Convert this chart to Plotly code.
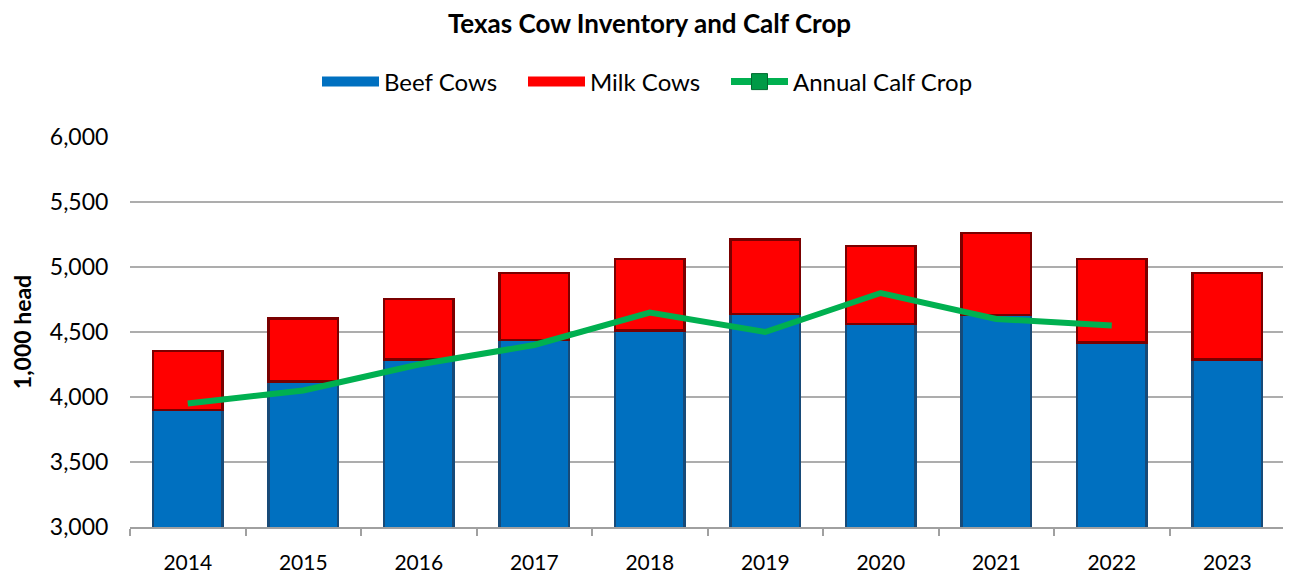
import plotly.graph_objects as go

years = ["2014", "2015", "2016", "2017", "2018", "2019", "2020", "2021", "2022", "2023"]
beef_cows = [3900, 4120, 4290, 4440, 4510, 4640, 4560, 4630, 4420, 4290]
milk_cows = [455, 485, 465, 515, 550, 570, 600, 630, 640, 665]
calf_crop = [3950, 4050, 4250, 4400, 4650, 4500, 4800, 4600, 4550, None]

font_family = "Lato, 'Open Sans', sans-serif"
BEEF = "#0070C0"
MILK = "#FF0000"
CALF = "#00B050"
W, H = 1283, 567

fig = go.Figure()
fig.add_trace(go.Bar(
    x=years, y=beef_cows, name="Beef Cows", showlegend=False,
    marker=dict(color=BEEF, line=dict(color="#174A78", width=2.5)),
))
fig.add_trace(go.Bar(
    x=years, y=milk_cows, name="Milk Cows", showlegend=False,
    marker=dict(color=MILK, line=dict(color="#7A0000", width=2.5)),
))
fig.add_trace(go.Scatter(
    x=years, y=calf_crop, name="Annual Calf Crop", mode="lines", showlegend=False,
    line=dict(color=CALF, width=6),
))

# legend-only entries (wide swatches like the original)
fig.add_trace(go.Scatter(x=[None], y=[None], name="Beef Cows", mode="lines",
                         line=dict(color=BEEF, width=18), legend="legend"))
fig.add_trace(go.Scatter(x=[None], y=[None], name="Milk Cows", mode="lines",
                         line=dict(color=MILK, width=18), legend="legend"))
fig.add_trace(go.Scatter(x=[None], y=[None], name="Annual Calf Crop", mode="lines+markers",
                         line=dict(color=CALF, width=7), legend="legend2",
                         marker=dict(symbol="square", size=18, color="#009A46",
                                     line=dict(color="#006B30", width=1))))

legend_common = dict(orientation="h", xref="container", xanchor="left",
                     y=1 - 74 / H, yref="container", yanchor="middle",
                     font=dict(size=24), itemwidth=57, bgcolor="rgba(0,0,0,0)",
                     traceorder="normal")

fig.update_layout(
    barmode="stack",
    bargap=0.4,
    width=W, height=H,
    margin=dict(l=122, r=6, t=129, b=48),
    paper_bgcolor="white", plot_bgcolor="white",
    font=dict(family=font_family, size=22, color="black"),
    title=dict(text="<b>Texas Cow Inventory and Calf Crop</b>", x=0.5, xref="container",
               xanchor="center", y=1 - 7 / H, yanchor="top",
               font=dict(size=26, family=font_family)),
    legend=dict(**legend_common, x=309 / W, entrywidth=134, entrywidthmode="pixels"),
    legend2=dict(**legend_common, x=718 / W),
    xaxis=dict(showgrid=False, ticks="outside", tickson="boundaries", ticklen=7,
               tickcolor="#A0A0A0", tickwidth=1.5, showline=True, linecolor="#A0A0A0",
               linewidth=1.5, tickfont=dict(size=21), ticklabelstandoff=16,
               automargin=False),
    yaxis=dict(range=[3000, 6000], dtick=500, tickformat=",", showgrid=True,
               gridcolor="#ADADAD", gridwidth=1.5, zeroline=False, showline=False,
               tickfont=dict(size=23), ticks="outside", ticklen=16, tickcolor="rgba(0,0,0,0)",
               title=dict(text="<b>1,000 head</b>", font=dict(size=23), standoff=12)),
)

fig.write_html("out.html")
